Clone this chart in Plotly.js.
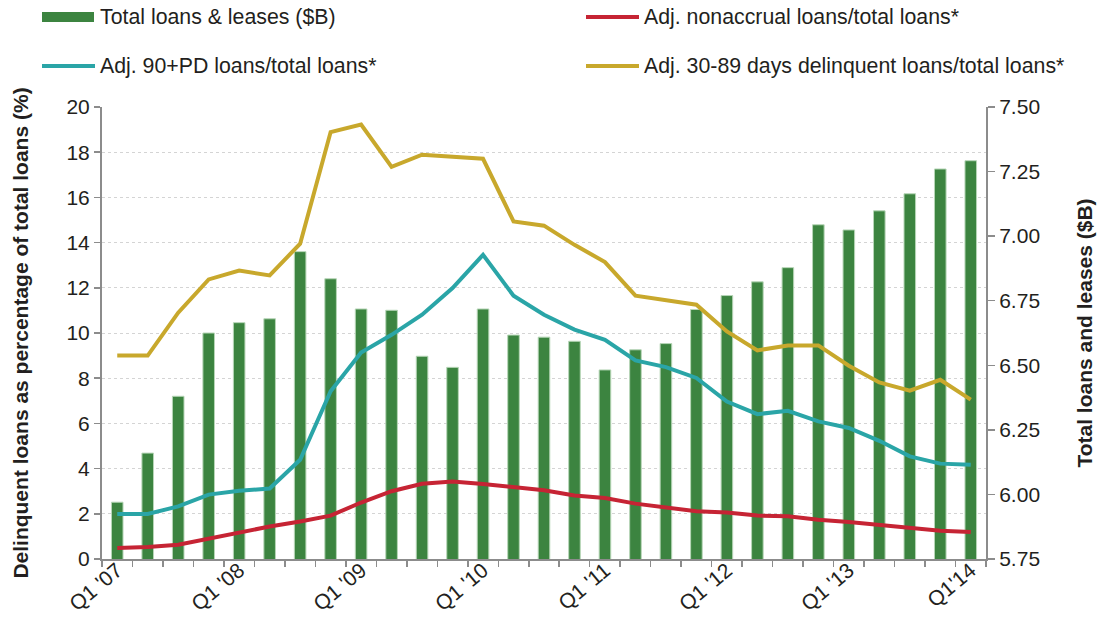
<!DOCTYPE html>
<html>
<head>
<meta charset="utf-8">
<script src="https://cdn.plot.ly/plotly-3.0.1.min.js"></script>
<style>
html,body{margin:0;padding:0;background:#ffffff;}
#chart{width:1100px;height:622px;}
</style>
</head>
<body>
<div id="chart"></div>
<script>
// ---- data ----
const quarters = [
  "Q1 '07","Q2 '07","Q3 '07","Q4 '07",
  "Q1 '08","Q2 '08","Q3 '08","Q4 '08",
  "Q1 '09","Q2 '09","Q3 '09","Q4 '09",
  "Q1 '10","Q2 '10","Q3 '10","Q4 '10",
  "Q1 '11","Q2 '11","Q3 '11","Q4 '11",
  "Q1 '12","Q2 '12","Q3 '12","Q4 '12",
  "Q1 '13","Q2 '13","Q3 '13","Q4 '13",
  "Q1 '14"
];
const tickLabels = [
  "Q1 '07","","","",
  "Q1 '08","","","",
  "Q1 '09","","","",
  "Q1 '10","","","",
  "Q1 '11","","","",
  "Q1 '12","","","",
  "Q1 '13","","","",
  "Q1'14"
];
const seriesNames = [
  "Total loans & leases ($B)",
  "Adj. nonaccrual loans/total loans*",
  "Adj. 90+PD loans/total loans*",
  "Adj. 30-89 days delinquent loans/total loans*"
];
const totalLoans = [5.97, 6.16, 6.38, 6.625, 6.665, 6.68, 6.94, 6.835, 6.718, 6.713,
  6.535, 6.492, 6.718, 6.617, 6.609, 6.593, 6.482, 6.56, 6.584, 6.716,
  6.77, 6.823, 6.878, 7.044, 7.024, 7.098, 7.164, 7.26, 7.292];
const nonaccrual = [0.49, 0.53, 0.63, 0.9, 1.18, 1.44, 1.66, 1.92, 2.5, 3.0,
  3.33, 3.43, 3.32, 3.17, 3.04, 2.81, 2.7, 2.45, 2.28, 2.11,
  2.06, 1.92, 1.89, 1.74, 1.64, 1.52, 1.4, 1.25, 1.19];
const pd90 = [1.99, 1.99, 2.33, 2.85, 3.02, 3.12, 4.39, 7.42, 9.14, 9.92,
  10.81, 11.99, 13.46, 11.65, 10.81, 10.15, 9.7, 8.79, 8.49, 8.01,
  6.97, 6.41, 6.56, 6.09, 5.8, 5.23, 4.54, 4.22, 4.17];
const delinq3089 = [9.0, 9.0, 10.9, 12.37, 12.76, 12.55, 13.95, 18.89, 19.22, 17.35,
  17.89, 17.79, 17.71, 14.94, 14.75, 13.9, 13.14, 11.65, 11.47, 11.25,
  10.07, 9.23, 9.45, 9.45, 8.55, 7.81, 7.45, 7.93, 7.05];
const colors = ["#3c8440", "#c62434", "#2aa5a7", "#c8a82c"];

// ---- layout helpers ----
const W = 1100, H = 622;
const M = {l: 102, r: 114, t: 107, b: 63};
const pw = W - M.l - M.r, ph = H - M.t - M.b;
const px = x => (x - M.l) / pw;
const py = y => (H - M.b - y) / ph;

const FONT = "Liberation Sans, Arial, Helvetica, sans-serif";
const TXT = "#231f20";
const AX = "#8c8c8c";

const traces = [
  {
    type: "bar", name: seriesNames[0], x: quarters, y: totalLoans, yaxis: "y",
    width: 0.38,
    marker: {color: colors[0], line: {color: "#b7d6b7", width: 1}},
    showlegend: false
  },
  {
    type: "scatter", mode: "lines", name: seriesNames[1], x: quarters, y: nonaccrual, yaxis: "y2",
    line: {color: colors[1], width: 4}, showlegend: false
  },
  {
    type: "scatter", mode: "lines", name: seriesNames[2], x: quarters, y: pd90, yaxis: "y2",
    line: {color: colors[2], width: 4}, showlegend: false
  },
  {
    type: "scatter", mode: "lines", name: seriesNames[3], x: quarters, y: delinq3089, yaxis: "y2",
    line: {color: colors[3], width: 4}, showlegend: false
  }
];

// custom legend (two rows, two columns)
const legendItems = [
  {i: 0, sx: 42, tx: 98, y: 17, rect: true},
  {i: 1, sx: 586, tx: 642, y: 17},
  {i: 2, sx: 42, tx: 98, y: 66},
  {i: 3, sx: 586, tx: 642, y: 66}
];
const shapes = [], annotations = [];
legendItems.forEach(it => {
  if (it.rect) {
    shapes.push({type: "rect", xref: "paper", yref: "paper",
      x0: px(it.sx), x1: px(it.sx + 52), y0: py(it.y + 5), y1: py(it.y - 5),
      fillcolor: colors[it.i], line: {width: 0}});
  } else {
    shapes.push({type: "line", xref: "paper", yref: "paper",
      x0: px(it.sx), x1: px(it.sx + 53), y0: py(it.y), y1: py(it.y),
      line: {color: colors[it.i], width: 4}});
  }
  annotations.push({xref: "paper", yref: "paper", x: px(it.tx), y: py(it.y),
    xanchor: "left", yanchor: "middle", showarrow: false,
    text: seriesNames[it.i], font: {family: FONT, size: 21.3, color: TXT}});
});

const layout = {
  width: W, height: H,
  margin: M,
  paper_bgcolor: "#ffffff", plot_bgcolor: "#ffffff",
  font: {family: FONT, size: 21, color: TXT},
  showlegend: false,
  bargap: 0.6,
  xaxis: {
    type: "category",
    range: [-0.5, quarters.length - 0.5],
    tickmode: "array", tickvals: quarters, ticktext: tickLabels,
    tickson: "boundaries",
    ticks: "outside", ticklen: 6, tickwidth: 1.5, tickcolor: AX,
    showline: true, linecolor: AX, linewidth: 2,
    showgrid: false, zeroline: false,
    tickangle: -40,
    ticklabelstandoff: -11,
    tickfont: {family: FONT, size: 21, color: TXT}
  },
  yaxis: {
    side: "right",
    range: [5.75, 7.5], tick0: 5.75, dtick: 0.25, tickformat: ".2f",
    ticks: "outside", ticklen: 7, tickwidth: 1.5, tickcolor: AX,
    showline: true, linecolor: AX, linewidth: 2,
    showgrid: false, zeroline: false,
    tickfont: {family: FONT, size: 21, color: TXT},
    title: {text: "Total loans and leases ($B)", standoff: 38,
      font: {family: FONT, size: 21, color: TXT, weight: "bold"}}
  },
  yaxis2: {
    overlaying: "y", side: "left",
    range: [0, 20], tick0: 0, dtick: 2,
    ticks: "outside", ticklen: 6, tickwidth: 1.5, tickcolor: AX,
    showline: true, linecolor: AX, linewidth: 2,
    showgrid: true, gridcolor: "#d4d4d4", gridwidth: 1, griddash: "dot",
    zeroline: false,
    tickfont: {family: FONT, size: 21, color: TXT},
    title: {text: "Delinquent loans as percentage of total loans (%)", standoff: 32,
      font: {family: FONT, size: 21, color: TXT, weight: "bold"}}
  },
  shapes: shapes,
  annotations: annotations
};

Plotly.newPlot("chart", traces, layout, {displayModeBar: false, staticPlot: true});
</script>
</body>
</html>
